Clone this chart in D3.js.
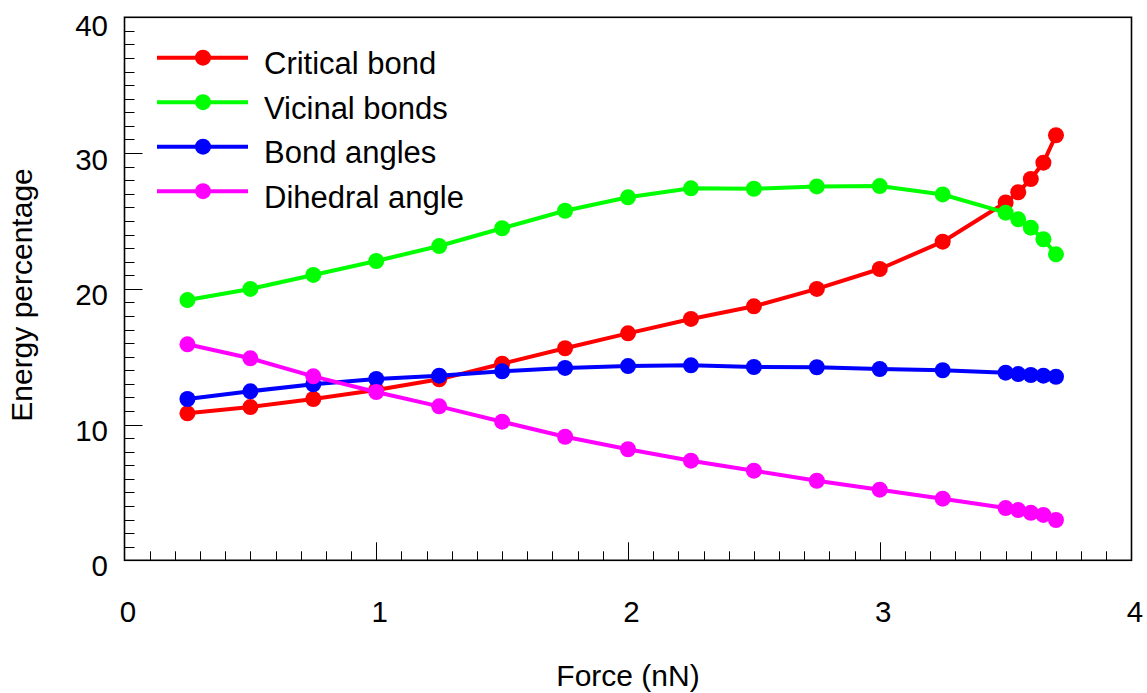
<!DOCTYPE html>
<html><head><meta charset="utf-8">
<script src="https://cdn.jsdelivr.net/npm/d3@7"></script>
<style>
html,body{margin:0;padding:0;background:#fff;}
svg{display:block;font-family:"Liberation Sans",Arial,Helvetica,sans-serif;}
</style></head>
<body>
<svg id="chart" width="1147" height="693"></svg>
<script>
const force = [0.25,0.5,0.75,1.0,1.25,1.5,1.75,2.0,2.25,2.5,2.75,3.0,3.25,3.5,3.55,3.6,3.65,3.7];
const criticalBond = [10.83,11.29,11.88,12.55,13.33,14.48,15.62,16.72,17.78,18.71,19.99,21.46,23.47,26.36,27.11,28.09,29.29,31.31];
const vicinalBonds = [19.17,19.99,21.02,22.05,23.15,24.46,25.75,26.74,27.40,27.37,27.54,27.57,26.95,25.61,25.12,24.50,23.65,22.54];
const bondAngles = [11.88,12.45,12.97,13.36,13.60,13.92,14.17,14.31,14.36,14.24,14.22,14.09,14.00,13.82,13.72,13.65,13.60,13.52];
const dihedralAngle = [15.91,14.88,13.55,12.40,11.34,10.21,9.10,8.18,7.34,6.60,5.86,5.20,4.54,3.85,3.70,3.50,3.34,2.97];
const seriesNames = ["Critical bond","Vicinal bonds","Bond angles","Dihedral angle"];
const seriesColors = ["#ff0000","#00ff00","#0000ff","#ff00ff"];
const xTicks = [0,1,2,3,4];
const yTicks = [0,10,20,30,40];
const xLabel = "Force (nN)";
const yLabel = "Energy percentage";

const seriesValues = [criticalBond, vicinalBonds, bondAngles, dihedralAngle];
const svg = d3.select("#chart");
const L = 124.5, R = 1131.5, T = 17.3, B = 560.3;
const x = d3.scaleLinear().domain([0,4]).range([L,R]);
const y = d3.scaleLinear().domain([0,40]).range([B,T]);
const FS = 29.5;

// frame
svg.append("rect").attr("x",L).attr("y",T).attr("width",R-L).attr("height",B-T)
  .attr("fill","none").attr("stroke","#000").attr("stroke-width",1.6);

// minor ticks
const xMinor = d3.range(0,41).map(i=>i/10).filter(v=>Math.abs(v-Math.round(v))>1e-6);
const yMinor = d3.range(0,41).filter(v=>v%10!==0);
const gt = svg.append("g").attr("stroke","#000").attr("stroke-width",1);
gt.selectAll(".xm").data(xMinor).join("line")
  .attr("x1",d=>Math.round(x(d))+0.5).attr("x2",d=>Math.round(x(d))+0.5)
  .attr("y1",B).attr("y2",B-9);
gt.selectAll(".xM").data(xTicks.slice(1,-1)).join("line")
  .attr("x1",d=>Math.round(x(d))+0.5).attr("x2",d=>Math.round(x(d))+0.5)
  .attr("y1",B).attr("y2",B-18);
gt.selectAll(".ym").data(yMinor).join("line")
  .attr("y1",d=>Math.round(y(d))+0.5).attr("y2",d=>Math.round(y(d))+0.5)
  .attr("x1",L).attr("x2",L+10);
gt.selectAll(".yM").data(yTicks.slice(1,-1)).join("line")
  .attr("y1",d=>Math.round(y(d))+0.5).attr("y2",d=>Math.round(y(d))+0.5)
  .attr("x1",L).attr("x2",L+18);

// tick labels
svg.append("g").selectAll("text").data(xTicks).join("text")
  .attr("x",d=>x(d)+3.5).attr("y",622).attr("text-anchor","middle")
  .attr("font-size",FS).attr("fill","#000").text(d=>d);
svg.append("g").selectAll("text").data(yTicks).join("text")
  .attr("x",108).attr("y",d=>{ let c=y(d)+6; if(d===40) c+=2.5; if(d===0) c-=1; return c; })
  .attr("dy","0.36em").attr("text-anchor","end")
  .attr("font-size",FS).attr("fill","#000").text(d=>d);

// axis titles
svg.append("text").attr("x",628).attr("y",686).attr("text-anchor","middle")
  .attr("font-size",30).attr("fill","#000").text(xLabel);
svg.append("text").attr("transform","translate(32,295) rotate(-90)")
  .attr("text-anchor","middle").attr("font-size",30).attr("fill","#000").text(yLabel);

// series
const line = d3.line().x((d,i)=>x(force[i])).y(d=>y(d));
seriesValues.forEach((vals,k)=>{
  const g = svg.append("g");
  g.append("path").datum(vals).attr("d",line).attr("fill","none")
    .attr("stroke",seriesColors[k]).attr("stroke-width",4).attr("stroke-linejoin","round");
  g.selectAll("circle").data(vals).join("circle")
    .attr("cx",(d,i)=>x(force[i])).attr("cy",d=>y(d)).attr("r",8)
    .attr("fill",seriesColors[k]);
});

// legend
const lg = svg.append("g");
seriesNames.forEach((name,k)=>{
  const cy = 57.7 + k*44.5;
  lg.append("line").attr("x1",157).attr("x2",248).attr("y1",cy).attr("y2",cy)
    .attr("stroke",seriesColors[k]).attr("stroke-width",4);
  lg.append("circle").attr("cx",203).attr("cy",cy).attr("r",8).attr("fill",seriesColors[k]);
  lg.append("text").attr("x",264).attr("y",cy+16.3)
    .attr("font-size",31).attr("fill","#000").text(name);
});
</script>
</body></html>
